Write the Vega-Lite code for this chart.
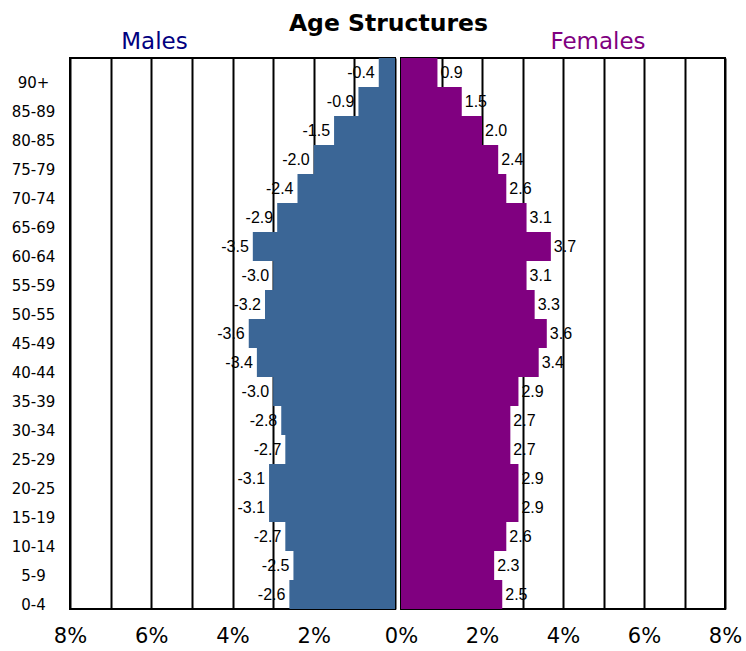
{
  "$schema": "https://vega.github.io/schema/vega-lite/v6.json",
  "padding": {"left": 10, "top": 11, "right": 5, "bottom": 5},
  "background": "white",
  "title": {"text": "Age Structures", "fontSize": 23.5, "fontWeight": "bold", "font": "DejaVu Sans", "anchor": "middle", "color": "black", "offset": 0, "dx": 12, "dy": 5},
  "config": {
    "locale": {"number": {"decimal": ".", "thousands": ",", "grouping": [3], "currency": ["$", ""], "minus": "-"}},
    "view": {"stroke": "black", "strokeWidth": 2}
  },
  "spacing": 6,
  "bounds": "flush",
  "datasets": {
    "pop": [
      {"age": "0-4", "male": -2.6, "female": 2.5},
      {"age": "5-9", "male": -2.5, "female": 2.3},
      {"age": "10-14", "male": -2.7, "female": 2.6},
      {"age": "15-19", "male": -3.1, "female": 2.9},
      {"age": "20-25", "male": -3.1, "female": 2.9},
      {"age": "25-29", "male": -2.7, "female": 2.7},
      {"age": "30-34", "male": -2.8, "female": 2.7},
      {"age": "35-39", "male": -3.0, "female": 2.9},
      {"age": "40-44", "male": -3.4, "female": 3.4},
      {"age": "45-49", "male": -3.6, "female": 3.6},
      {"age": "50-55", "male": -3.2, "female": 3.3},
      {"age": "55-59", "male": -3.0, "female": 3.1},
      {"age": "60-64", "male": -3.5, "female": 3.7},
      {"age": "65-69", "male": -2.9, "female": 3.1},
      {"age": "70-74", "male": -2.4, "female": 2.6},
      {"age": "75-79", "male": -2.0, "female": 2.4},
      {"age": "80-85", "male": -1.5, "female": 2.0},
      {"age": "85-89", "male": -0.9, "female": 1.5},
      {"age": "90+", "male": -0.4, "female": 0.9}
    ]
  },
  "hconcat": [
    {
      "width": 325,
      "height": 551,
      "title": {"text": "Males", "color": "#000080", "fontSize": 23, "font": "DejaVu Sans", "fontWeight": "normal", "anchor": "middle", "dx": -78, "offset": 4},
      "data": {"name": "pop"},
      "encoding": {
        "y": {
          "field": "age", "type": "ordinal",
          "sort": ["90+", "85-89", "80-85", "75-79", "70-74", "65-69", "60-64", "55-59", "50-55", "45-49", "40-44", "35-39", "30-34", "25-29", "20-25", "15-19", "10-14", "5-9", "0-4"],
          "scale": {"paddingInner": 0, "paddingOuter": 0},
          "axis": {"title": null, "ticks": false, "domain": false, "labelFontSize": 15, "labelFont": "DejaVu Sans", "labelColor": "black", "labelAlign": "center", "labelPadding": 37, "labelOffset": 10}
        }
      },
      "layer": [
        {
          "mark": {"type": "bar", "color": "#3B6696"},
          "encoding": {
            "x": {
              "field": "male", "type": "quantitative",
              "scale": {"domain": [-8, 0], "nice": false},
              "axis": {"title": null, "values": [-8, -7, -6, -5, -4, -3, -2, -1, 0], "grid": true, "gridColor": "black", "gridWidth": 2, "gridOpacity": 1, "ticks": false, "domain": false, "labelFlush": false, "labelFontSize": 21, "labelFont": "DejaVu Sans", "labelColor": "black", "labelPadding": 16, "labelExpr": "datum.value % 2 == 0 && datum.value != 0 ? abs(datum.value) + '%' : ''"}
            }
          }
        },
        {
          "mark": {"type": "text", "align": "right", "baseline": "middle", "dx": -4, "fontSize": 16, "font": "Liberation Sans", "color": "black"},
          "encoding": {
            "x": {"field": "male", "type": "quantitative"},
            "text": {"field": "male", "type": "quantitative", "format": ".1f"}
          }
        }
      ]
    },
    {
      "width": 324,
      "height": 551,
      "title": {"text": "Females", "color": "#800080", "fontSize": 23, "font": "DejaVu Sans", "fontWeight": "normal", "anchor": "middle", "dx": 35, "offset": 4},
      "data": {"name": "pop"},
      "encoding": {
        "y": {
          "field": "age", "type": "ordinal",
          "sort": ["90+", "85-89", "80-85", "75-79", "70-74", "65-69", "60-64", "55-59", "50-55", "45-49", "40-44", "35-39", "30-34", "25-29", "20-25", "15-19", "10-14", "5-9", "0-4"],
          "scale": {"paddingInner": 0, "paddingOuter": 0},
          "axis": null
        }
      },
      "layer": [
        {
          "mark": {"type": "bar", "color": "#800080"},
          "encoding": {
            "x": {
              "field": "female", "type": "quantitative",
              "scale": {"domain": [0, 8], "nice": false},
              "axis": {"title": null, "values": [0, 1, 2, 3, 4, 5, 6, 7, 8], "grid": true, "gridColor": "black", "gridWidth": 2, "gridOpacity": 1, "ticks": false, "domain": false, "labelFlush": false, "labelFontSize": 21, "labelFont": "DejaVu Sans", "labelColor": "black", "labelPadding": 16, "labelExpr": "datum.value % 2 == 0 ? datum.value + '%' : ''"}
            }
          }
        },
        {
          "mark": {"type": "text", "align": "left", "baseline": "middle", "dx": 3, "fontSize": 16, "font": "Liberation Sans", "color": "black"},
          "encoding": {
            "x": {"field": "female", "type": "quantitative"},
            "text": {"field": "female", "type": "quantitative", "format": ".1f"}
          }
        }
      ]
    }
  ]
}
